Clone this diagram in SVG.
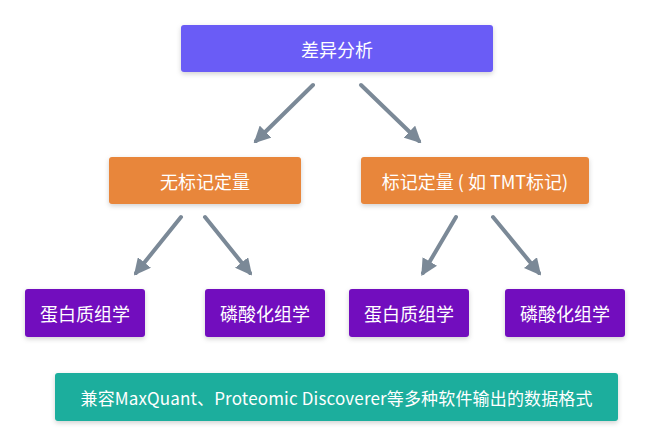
<svg xmlns="http://www.w3.org/2000/svg" width="650" height="446" viewBox="0 0 650 446">
<defs>
<filter id="sh" x="-10%" y="-20%" width="120%" height="150%">
<feDropShadow dx="0" dy="2" stdDeviation="2.5" flood-color="#000" flood-opacity="0.18"/>
</filter>
<marker id="ah" viewBox="0 0 10 10" refX="8" refY="5" markerWidth="4.2" markerHeight="4.2" orient="auto" markerUnits="strokeWidth">
<path d="M0,0 L10,5 L0,10 z" fill="#7b8997"/>
</marker>
</defs>
<style>
text{font-family:"Noto Sans CJK SC","Noto Sans",sans-serif;font-size:18px;fill:#fff;text-anchor:middle;dominant-baseline:central}
.s{font-size:17px}
.b{filter:url(#sh)}
.c line{stroke:#7b8997;stroke-width:4;stroke-linecap:round;marker-end:url(#ah)}
</style>
<rect width="650" height="446" fill="#fff"/>
<g class="c" id="connectors">
<line x1="313" y1="85" x2="256" y2="141"/>
<line x1="361" y1="85" x2="419" y2="141"/>
<line x1="181" y1="217" x2="136" y2="273"/>
<line x1="205" y1="217" x2="250" y2="273"/>
<line x1="456" y1="217" x2="423" y2="273"/>
<line x1="493" y1="217" x2="539" y2="273"/>
</g>
<g id="n-top"><rect class="b" x="181" y="25" width="312" height="47" rx="3" fill="#6a5bf6"/><text x="337" y="48.5">差异分析</text></g>
<g id="n-lf"><rect class="b" x="109" y="157" width="192" height="47" rx="3" fill="#e8863a"/><text x="205" y="180.5">无标记定量</text></g>
<g id="n-lb"><rect class="b" x="361" y="157" width="228" height="47" rx="3" fill="#e8863a"/><text x="475" y="180.5">标记定量 ( 如 TMT标记)</text></g>
<g id="n-p1"><rect class="b" x="25" y="289" width="120" height="48" rx="3" fill="#7210be"/><text x="85" y="313">蛋白质组学</text></g>
<g id="n-p2"><rect class="b" x="205" y="289" width="120" height="48" rx="3" fill="#7210be"/><text x="265" y="313">磷酸化组学</text></g>
<g id="n-p3"><rect class="b" x="349" y="289" width="120" height="48" rx="3" fill="#7210be"/><text x="409" y="313">蛋白质组学</text></g>
<g id="n-p4"><rect class="b" x="505" y="289" width="120" height="48" rx="3" fill="#7210be"/><text x="565" y="313">磷酸化组学</text></g>
<g id="n-bottom"><rect class="b" x="55" y="373" width="563" height="48" rx="3" fill="#1aae9d"/><text class="s" x="336.5" y="397" textLength="512" lengthAdjust="spacing">兼容MaxQuant、Proteomic Discoverer等多种软件输出的数据格式</text></g>
</svg>
